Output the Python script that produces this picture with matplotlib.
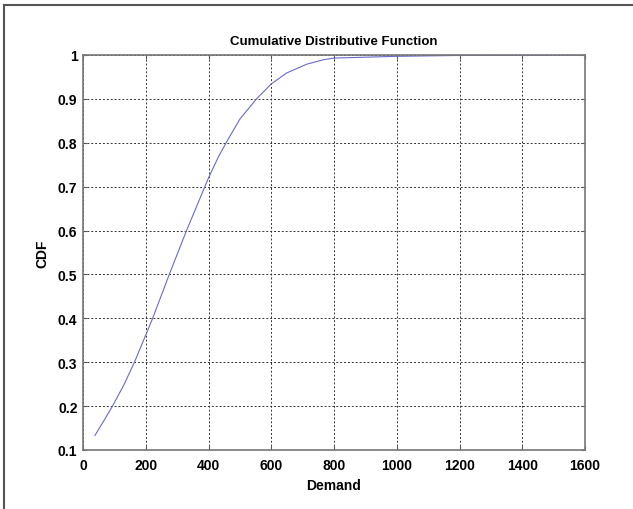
import matplotlib
matplotlib.use("Agg")
import matplotlib.pyplot as plt
from matplotlib.lines import Line2D

# values
demand = [38, 65, 94, 130, 164, 222, 275, 330, 400, 431, 456, 500, 553, 600,
          649, 713, 765, 800, 900, 1000, 1100, 1200, 1400, 1600]
cdf = [0.133, 0.165, 0.2, 0.248, 0.3, 0.4, 0.5, 0.6, 0.72, 0.767, 0.8, 0.854,
       0.9, 0.934, 0.959, 0.979, 0.989, 0.993, 0.995, 0.997, 0.998, 0.999,
       1.0, 1.0]
xticks = [0, 200, 400, 600, 800, 1000, 1200, 1400, 1600]
yticks = [0.1, 0.2, 0.3, 0.4, 0.5, 0.6, 0.7, 0.8, 0.9, 1]

plt.rcParams['font.family'] = ['Liberation Sans', 'DejaVu Sans']

fig = plt.figure(figsize=(6.33, 5.10), dpi=100)
W, H = 633, 510
ax = fig.add_axes([83 / W, 1 - 451 / H, (585 - 83) / W, (451 - 56) / H])

ax.plot(demand, cdf, color='#6a6acf', linewidth=0.8)

ax.set_xlim(0, 1600)
ax.set_ylim(0.1, 1)
ax.set_xticks(xticks)
ax.set_yticks(yticks)
ax.set_xticklabels([str(v) for v in xticks], fontweight='bold', fontsize=10)
ax.set_yticklabels([('%g' % v) for v in yticks], fontweight='bold', fontsize=10)
ax.tick_params(direction='in', length=3, width=0.8, top=True, right=True,
               color='#555555', pad=4)
ax.tick_params(axis='x', pad=6)
ax.grid(True, linestyle=(0, (2, 2)), color='#333333', linewidth=0.7)
for s in ax.spines.values():
    s.set_color('#777777')
    s.set_linewidth(1.2)

ax.set_title('Cumulative Distributive Function', fontsize=9.5, fontweight='bold', pad=8)
ax.set_xlabel('Demand', fontsize=10, fontweight='bold', labelpad=4)
ax.set_ylabel('CDF', fontsize=10, fontweight='bold', labelpad=6)

# frame on top and left edges of the picture
fig.add_artist(Line2D([4 / W, 4 / W], [0, 1 - 6 / H], transform=fig.transFigure,
                      color='#555555', linewidth=1.5))
fig.add_artist(Line2D([4 / W, 1], [1 - 6 / H, 1 - 6 / H], transform=fig.transFigure,
                      color='#555555', linewidth=1.5))

fig.savefig('out.png', dpi=100)
